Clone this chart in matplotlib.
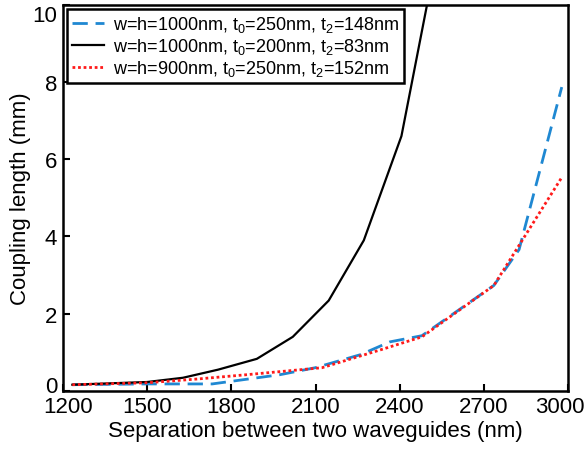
import numpy as np
import matplotlib
matplotlib.use("Agg")
import matplotlib.pyplot as plt
from matplotlib.transforms import ScaledTranslation

plt.rcParams["font.family"] = ["Liberation Sans", "DejaVu Sans"]

# separation (nm) vs coupling length (mm) for three waveguide geometries
sep_a = [1234, 1500, 1732, 1974, 2099, 2261, 2365, 2479, 2735, 2825, 2977]
len_a = [0.16, 0.18, 0.18, 0.42, 0.60, 0.94, 1.27, 1.43, 2.73, 3.66, 7.87]

sep_b = [1234, 1500, 1628, 1753, 1891, 2019, 2147, 2272, 2406, 2540]
len_b = [0.16, 0.23, 0.34, 0.55, 0.83, 1.40, 2.34, 3.90, 6.60, 11.6]

sep_c = [1234, 1500, 1683, 1856, 2123, 2330, 2479, 2735, 2977]
len_c = [0.16, 0.21, 0.31, 0.42, 0.60, 1.06, 1.40, 2.73, 5.53]

labels = [
    r"w=h=1000nm, t$_0$=250nm, t$_2$=148nm",
    r"w=h=1000nm, t$_0$=200nm, t$_2$=83nm",
    r"w=h=900nm, t$_0$=250nm, t$_2$=152nm",
]

xticks = [1200, 1500, 1800, 2100, 2400, 2700, 3000]
yticks = [0, 2, 4, 6, 8, 10]

plt.rcParams["mathtext.fontset"] = "custom"
plt.rcParams["mathtext.rm"] = "Liberation Sans"
plt.rcParams["mathtext.default"] = "regular"

fig = plt.figure(figsize=(5.87, 4.52), dpi=100)
ax = fig.add_axes([0.107, 0.133, 0.861, 0.854])

ax.plot(sep_a, len_a, color="#1f88d2", lw=2.0, dashes=(5.5, 2.8), label=labels[0])
ax.plot(sep_b, len_b, color="black", lw=1.6, label=labels[1])
ax.plot(sep_c, len_c, color="#ff1a1a", lw=2.0, dashes=(1, 1), label=labels[2])

ax.set_xlim(1200, 3000)
ax.set_ylim(0, 10)
ax.set_xticks(xticks)
ax.set_yticks(yticks)
ax.tick_params(direction="in", length=5, width=1.5, labelsize=16,
               top=False, right=False, pad=4)
for s in ax.spines.values():
    s.set_linewidth(1.8)

# nudge the corner tick labels inward so they don't collide or get clipped
def nudge(label, dx, dy):
    label.set_transform(label.get_transform()
                        + ScaledTranslation(dx / 72, dy / 72, fig.dpi_scale_trans))

xlabels = ax.get_xticklabels()
ylabels = ax.get_yticklabels()
nudge(xlabels[0], 4, 0)
nudge(xlabels[-1], -6, 0)
nudge(ylabels[0], 0, 5)
nudge(ylabels[-1], 0, -6)

ax.set_xlabel("Separation between two waveguides (nm)", fontsize=16, labelpad=2)
ax.set_ylabel("Coupling length (mm)", fontsize=16, labelpad=1)

leg = ax.legend(loc="upper left", fontsize=13, fancybox=False,
                edgecolor="black", framealpha=1, borderaxespad=0.25,
                handlelength=1.8, handletextpad=0.5, labelspacing=0.12,
                borderpad=0.25)
leg.get_frame().set_linewidth(1.8)

fig.savefig("out.png", dpi=100)
